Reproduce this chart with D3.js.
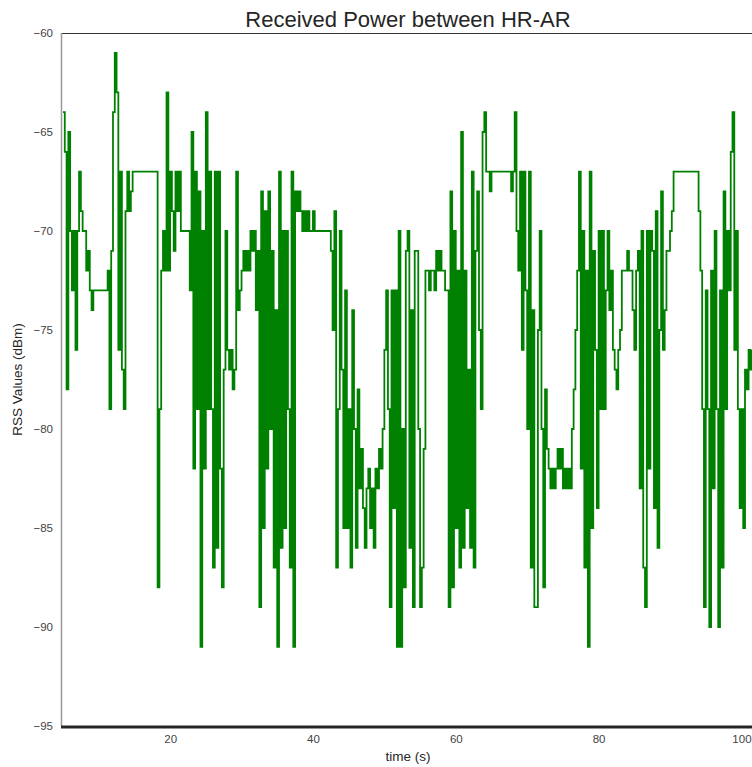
<!DOCTYPE html>
<html>
<head>
<meta charset="utf-8">
<script src="https://cdn.jsdelivr.net/npm/d3@7"></script>
<style>
  html, body { margin: 0; padding: 0; background: #fff; }
  svg { display: block; font-family: "Liberation Sans", Arial, sans-serif; }
</style>
</head>
<body>
<svg id="chart" width="752" height="767"></svg>
<script>
const chartTitle = 'Received Power between HR-AR';
const xLabel = 'time (s)';
const yLabel = 'RSS Values (dBm)';
const xTicks = [20, 40, 60, 80, 100];
const yTicks = [-95, -90, -85, -80, -75, -70, -65, -60];

// samples, one every 0.25 s starting at t = 5 s
const startTime = 5;
const sampleStep = 0.25;
const rssValues = [
  // 5 - 21.25 s
  -64, -66, -78, -65, -70, -73, -70, -76, -70, -67,
  -69, -70, -70, -72, -71, -73, -74, -73, -73, -73,
  -73, -73, -73, -73, -73, -72, -79, -71, -64, -61,
  -63, -76, -67, -77, -79, -69, -67, -69, -68, -67,
  -67, -67, -67, -67, -67, -67, -67, -67, -67, -67,
  -67, -67, -67, -88, -79, -72, -70, -72, -63, -72,
  -67, -69, -71, -67, -69, -67,
  // 21.5 - 37.75 s
  -70, -70, -70, -70, -70, -73, -65, -82, -67, -79,
  -68, -91, -70, -82, -64, -79, -67, -79, -87, -67,
  -86, -67, -82, -88, -77, -70, -76, -77, -76, -78,
  -77, -67, -74, -73, -72, -71, -72, -71, -72, -70,
  -71, -70, -74, -71, -89, -68, -85, -69, -82, -68,
  -80, -71, -87, -74, -91, -67, -86, -70, -85, -70,
  -79, -87, -67, -91, -68, -69,
  // 38 - 54.25 s
  -68, -69, -70, -69, -70, -69, -70, -70, -69, -70,
  -70, -70, -70, -70, -70, -70, -70, -70, -71, -75,
  -69, -87, -79, -70, -77, -85, -73, -85, -79, -87,
  -74, -80, -86, -78, -83, -81, -84, -86, -83, -82,
  -85, -83, -86, -82, -83, -81, -82, -80, -76, -73,
  -79, -89, -73, -84, -73, -91, -70, -91, -80, -88,
  -71, -70, -86, -74, -89, -71,
  // 54.5 - 71 s
  -71, -80, -89, -87, -81, -72, -72, -73, -72, -72,
  -73, -71, -72, -71, -72, -72, -73, -73, -89, -68,
  -88, -70, -85, -72, -87, -65, -86, -72, -84, -77,
  -86, -67, -87, -71, -68, -75, -79, -65, -64, -67,
  -67, -68, -67, -67, -67, -67, -67, -67, -67, -67,
  -67, -67, -67, -68, -67, -64, -70, -72, -67, -76,
  -67, -73, -80, -67, -87, -74, -89,
  // 71.25 - 87.25 s
  -89, -75, -70, -80, -88, -78, -81, -82, -83, -82,
  -83, -82, -81, -82, -81, -83, -82, -83, -82, -83,
  -80, -78, -75, -72, -67, -82, -70, -87, -72, -91,
  -67, -85, -71, -76, -84, -70, -79, -70, -79, -73,
  -70, -74, -72, -76, -77, -78, -76, -75, -72, -72,
  -72, -71, -72, -72, -74, -76, -72, -71, -83, -70,
  -87, -89, -70, -82, -70,
  // 87.5 - 101.5 s
  -71, -84, -69, -86, -75, -68, -76, -74, -71, -71,
  -70, -69, -67, -67, -67, -67, -67, -67, -67, -67,
  -67, -67, -67, -67, -67, -67, -69, -72, -79, -89,
  -73, -79, -90, -72, -83, -70, -79, -90, -73, -87,
  -68, -79, -70, -73, -66, -64, -76, -70, -79, -84,
  -79, -85, -77, -78, -76, -77, -76
];

const series = rssValues.map((v, i) => ({ t: startTime + i * sampleStep, v }));

const svg = d3.select('#chart');
const plot = { left: 62, top: 33, right: 760, bottom: 726 };

const x = d3.scaleLinear().domain([4.86, 102.6]).range([plot.left, plot.right]);
const y = d3.scaleLinear().domain([-95, -60]).range([plot.bottom, plot.top]);

svg.append('defs').append('clipPath').attr('id', 'plot-clip')
  .append('rect')
  .attr('x', plot.left).attr('y', plot.top)
  .attr('width', plot.right - plot.left).attr('height', plot.bottom - plot.top);

// the signal moves in whole-dBm steps, so draw it as a step line
const line = d3.line().x((d) => x(d.t)).y((d) => y(d.v)).curve(d3.curveStepAfter);

svg.append('path')
  .datum(series)
  .attr('clip-path', 'url(#plot-clip)')
  .attr('fill', 'none')
  .attr('stroke', '#008000')
  .attr('stroke-width', 1.8)
  .attr('d', line);

// spines
svg.append('line')
  .attr('x1', plot.left).attr('x2', 752).attr('y1', plot.top + 0.5).attr('y2', plot.top + 0.5)
  .attr('stroke', '#333').attr('stroke-width', 1);
svg.append('line')
  .attr('x1', plot.left - 0.5).attr('x2', plot.left - 0.5).attr('y1', plot.top).attr('y2', plot.bottom)
  .attr('stroke', '#999').attr('stroke-width', 1.5);
svg.append('line')
  .attr('x1', plot.left - 1).attr('x2', 752).attr('y1', plot.bottom + 1).attr('y2', plot.bottom + 1)
  .attr('stroke', '#262626').attr('stroke-width', 3);

const axisY = svg.append('g')
  .attr('transform', `translate(${plot.left},0)`)
  .call(d3.axisLeft(y).tickValues(yTicks).tickSize(0).tickPadding(9));
const axisX = svg.append('g')
  .attr('transform', `translate(0,${plot.bottom})`)
  .call(d3.axisBottom(x).tickValues(xTicks).tickSize(0).tickPadding(9));

[axisX, axisY].forEach((axis) => {
  axis.select('.domain').remove();
  axis.selectAll('text')
    .attr('fill', '#444')
    .style('font-size', '11.5px')
    .style('font-family', '"Liberation Sans", Arial, sans-serif');
});

svg.append('text')
  .attr('x', 408).attr('y', 27)
  .attr('text-anchor', 'middle')
  .attr('fill', '#262626')
  .style('font-size', '22px')
  .text(chartTitle);

svg.append('text')
  .attr('x', 408).attr('y', 761)
  .attr('text-anchor', 'middle')
  .attr('fill', '#262626')
  .style('font-size', '13.5px')
  .text(xLabel);

svg.append('text')
  .attr('transform', `translate(22,${(plot.top + plot.bottom) / 2}) rotate(-90)`)
  .attr('text-anchor', 'middle')
  .attr('fill', '#262626')
  .style('font-size', '13.5px')
  .text(yLabel);
</script>
</body>
</html>
